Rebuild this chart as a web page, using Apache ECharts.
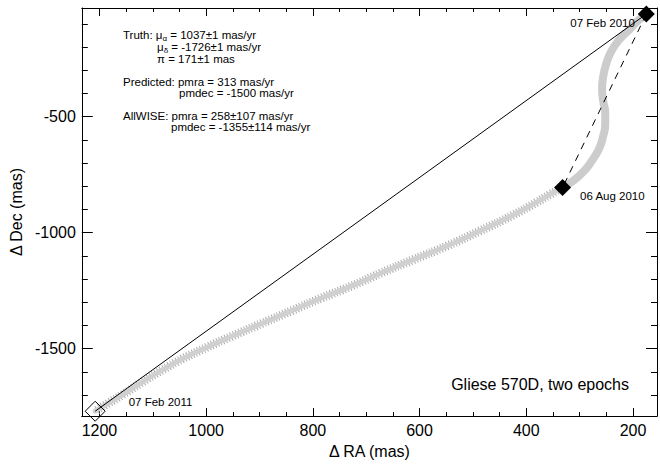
<!DOCTYPE html>
<html>
<head>
<meta charset="utf-8">
<script src="https://cdn.jsdelivr.net/npm/echarts@6/dist/echarts.min.js"></script>
<style>
html,body{margin:0;padding:0;background:#fff;}
#chart{width:660px;height:464px;}
</style>
</head>
<body>
<div id="chart"></div>
<script>
// ---- data ----
const epochLabels = ['07 Feb 2010', '06 Aug 2010', '07 Feb 2011'];
const epochRA  = [175, 332, 1208];
const epochDec = [-58, -806, -1770];

// predicted path, 07 Feb 2010 -> 06 Aug 2010
const pathRA1  = [175, 193, 207, 226, 241, 250, 256, 258, 256, 252, 252, 256, 263, 276, 293, 314, 332];
const pathDec1 = [-58, -92, -126, -169, -220, -271, -330, -381, -432, -483, -534, -585, -636, -687, -738, -780, -806];

// predicted path, 06 Aug 2010 -> 07 Feb 2011
const pathRA2  = [332, 356, 381, 425, 487, 548, 611, 673, 728, 784, 840, 896, 952, 998, 1045, 1082, 1119, 1156, 1184, 1208];
const pathDec2 = [-806, -836, -870, -925, -993, -1057, -1116, -1175, -1231, -1282, -1337, -1392, -1447, -1494, -1545, -1592, -1643, -1698, -1736, -1770];

const xTickLabels = [200, 400, 600, 800, 1000, 1200];
const yTickLabels = [-500, -1000, -1500];

const xRange = [155, 1233];
const yRange = [-1791, -32];

// ---- chart ----
const FONT = "'Liberation Sans', Arial, Helvetica, sans-serif";
const zip = (a, b) => a.map((v, i) => [v, b[i]]);

const chart = echarts.init(document.getElementById('chart'), null, {renderer: 'svg'});

function xAxisCfg(pos, labels) {
  return {
    type: 'value', position: pos, inverse: true,
    min: xRange[0], max: xRange[1], splitNumber: 5,
    axisLine: {show: true, onZero: false, lineStyle: {color: '#000', width: 1}},
    axisTick: {show: true, inside: true, length: 8, lineStyle: {color: '#000', width: 1}},
    minorTick: {show: true, splitNumber: 4, length: 4, lineStyle: {color: '#000', width: 1}},
    splitLine: {show: false},
    axisLabel: {
      show: labels, margin: 6, color: '#000', fontFamily: FONT, fontSize: 16,
      formatter: v => xTickLabels.indexOf(Math.round(v)) >= 0 && Math.abs(v - Math.round(v)) < 1e-6 ? String(Math.round(v)) : ''
    },
    name: labels ? 'Δ RA (mas)' : '',
    nameLocation: 'middle', nameGap: 25,
    nameTextStyle: {color: '#000', fontFamily: FONT, fontSize: 16}
  };
}
function yAxisCfg(pos, labels) {
  return {
    type: 'value', position: pos,
    min: yRange[0], max: yRange[1], splitNumber: 4,
    axisLine: {show: true, onZero: false, lineStyle: {color: '#000', width: 1}},
    axisTick: {show: true, inside: true, length: 11, lineStyle: {color: '#000', width: 1}},
    minorTick: {show: true, splitNumber: 5, length: 6, lineStyle: {color: '#000', width: 1}},
    splitLine: {show: false},
    axisLabel: {
      show: labels, margin: 6, color: '#000', fontFamily: FONT, fontSize: 16,
      formatter: v => yTickLabels.indexOf(Math.round(v)) >= 0 && Math.abs(v - Math.round(v)) < 1e-6 ? String(Math.round(v)) : ''
    },
    name: labels ? 'Δ Dec (mas)' : '',
    nameLocation: 'middle', nameGap: 52,
    nameTextStyle: {color: '#000', fontFamily: FONT, fontSize: 16}
  };
}

const annFont = 11.5;
const rich = {
  n: {fontFamily: FONT, fontSize: annFont, lineHeight: 14, verticalAlign: 'middle', fill: '#000'},
  s: {fontFamily: FONT, fontSize: 8, lineHeight: 8, verticalAlign: 'bottom', fill: '#000'}
};
function ann(x, y, text) {
  return {type: 'text', x: x, y: y, silent: true, z: 10,
    style: {text: text, rich: rich, font: annFont + 'px ' + FONT, fill: '#000', verticalAlign: 'middle', align: 'left'}};
}

const dateLabel = (pos, off) => ({show: true, position: pos, offset: off, color: '#000000', textBorderWidth: 0, fontFamily: FONT, fontSize: 11.5});

chart.setOption({
  animation: false,
  backgroundColor: '#fff',
  grid: {left: 79, right: 2, top: 8, bottom: 42, containLabel: false},
  xAxis: [xAxisCfg('bottom', true), xAxisCfg('top', false)],
  yAxis: [yAxisCfg('left', true), yAxisCfg('right', false)],
  graphic: [
    ann(123, 35, '{n|Truth: μ}{s|α}{n| = 1037±1 mas/yr}'),
    ann(157, 47, '{n|μ}{s|δ}{n| = -1726±1 mas/yr}'),
    ann(157, 59, '{n|π = 171±1 mas}'),
    ann(123, 82, '{n|Predicted: pmra = 313 mas/yr}'),
    ann(179, 93, '{n|pmdec = -1500 mas/yr}'),
    ann(123, 116, '{n|AllWISE: pmra = 258±107 mas/yr}'),
    ann(171, 127, '{n|pmdec = -1355±114 mas/yr}'),
    {type: 'text', x: 629, y: 384, silent: true, z: 10,
     style: {text: 'Gliese 570D, two epochs', font: '16px ' + FONT, fill: '#000', align: 'right', verticalAlign: 'middle'}}
  ],
  series: [
    {type: 'line', data: zip(pathRA1, pathDec1), smooth: true, showSymbol: false, silent: true, z: 1,
     lineStyle: {color: '#cccccc', width: 8, cap: 'round'}},
    {type: 'line', data: zip(pathRA2, pathDec2), smooth: true, showSymbol: false, silent: true, z: 1,
     lineStyle: {color: '#aaaaaa', width: 9, type: [1, 2], cap: 'butt'}},
    {type: 'line', data: zip(pathRA2, pathDec2), smooth: true, showSymbol: false, silent: true, z: 1,
     lineStyle: {color: '#d0d0d0', width: 5, cap: 'round'}},
    {type: 'line', data: [[epochRA[0], epochDec[0]], [epochRA[2], epochDec[2]]], showSymbol: false, silent: true, z: 3,
     lineStyle: {color: '#000', width: 1}},
    {type: 'line', data: [[epochRA[0], epochDec[0]], [epochRA[1], epochDec[1]]], showSymbol: false, silent: true, z: 3,
     lineStyle: {color: '#000', width: 1, type: [7, 6]}},
    {type: 'scatter', symbol: 'diamond', silent: true, z: 5,
     label: {show: true, color: '#000000', formatter: p => epochLabels[p.dataIndex]},
     data: [
       {value: [epochRA[0], epochDec[0]], symbolSize: 17, itemStyle: {color: '#000', opacity: 1}, label: dateLabel('left', [2, 9])},
       {value: [epochRA[1], epochDec[1]], symbolSize: 17, itemStyle: {color: '#000', opacity: 1}, label: dateLabel('right', [4, 8])},
       {value: [epochRA[2], epochDec[2]], symbolSize: 20, itemStyle: {color: 'rgba(0,0,0,0)', borderColor: '#000', borderWidth: 1, opacity: 1}, label: dateLabel('right', [18, -9])}
     ]}
  ]
});
</script>
</body>
</html>
